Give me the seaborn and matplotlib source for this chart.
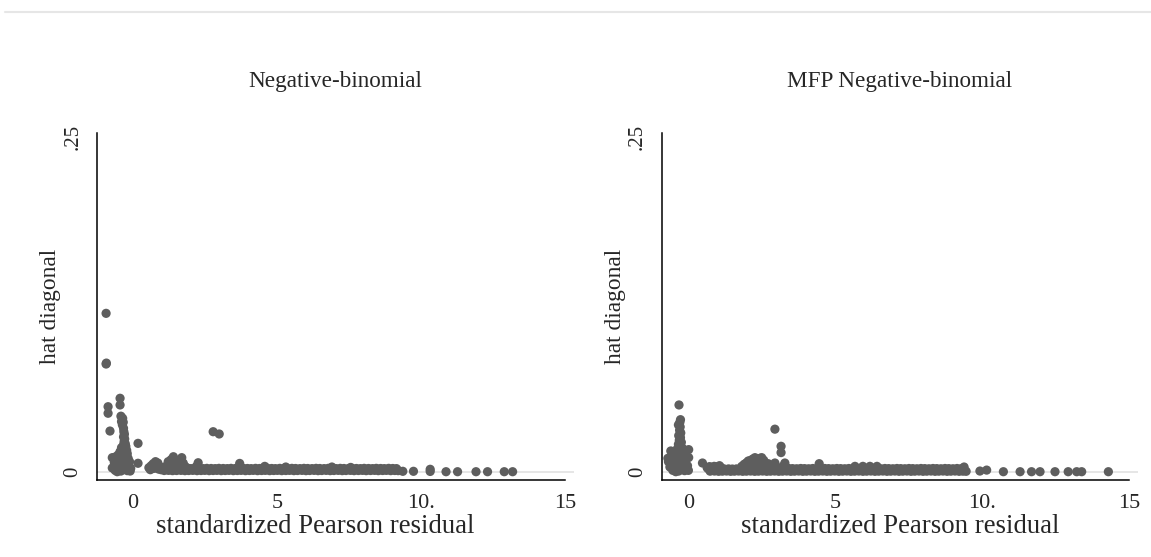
import numpy as np
import pandas as pd
import matplotlib
matplotlib.use("Agg")
import matplotlib.pyplot as plt
from matplotlib.lines import Line2D
import seaborn as sns

# ---------------- data ----------------
titles = ["Negative-binomial", "MFP Negative-binomial"]
x_label = "standardized Pearson residual"
y_label = "hat diagonal"
x_ticks = [0, 5, 10, 15]
x_tick_labels = ["0", "5", "10.", "15"]
y_ticks = [0, 0.25]
y_tick_labels = ["0", ".25"]

# Negative-binomial panel
nb_out_x = [-0.935, -0.935, -0.925, -0.866, -0.866, -0.45, -0.45, -0.80, 0.173, 0.173, 2.78, 2.99]
nb_out_y = [0.1184, 0.0805, 0.0812, 0.0486, 0.0437, 0.0549, 0.0499, 0.0304, 0.0212, 0.0063, 0.0299, 0.0282]

nb_col_x = [-0.42, -0.36, -0.40, -0.34, -0.37, -0.33, -0.32, -0.30, -0.33, -0.29, -0.31, -0.27,
            -0.33, -0.25, -0.40, -0.29, -0.22, -0.45, -0.35, -0.20, -0.52, -0.28, -0.62, -0.40,
            -0.17, -0.72, -0.55, -0.30, -0.12, -0.65, -0.45, -0.22, -0.72, -0.58, -0.38, -0.15,
            -0.08, -0.50, -0.30, -0.62, -0.42, -0.20, -0.10, -0.55]
nb_col_y = [0.0415, 0.0399, 0.0375, 0.0370, 0.0350, 0.0325, 0.0300, 0.0280, 0.0260, 0.0245, 0.0225, 0.0210,
            0.0200, 0.0190, 0.0180, 0.0170, 0.0160, 0.0150, 0.0145, 0.0135, 0.0125, 0.0120, 0.0110, 0.0105,
            0.0100, 0.0105, 0.0090, 0.0085, 0.0075, 0.0070, 0.0065, 0.0060, 0.0028, 0.0045, 0.0040, 0.0040,
            0.0025, 0.0020, 0.0018, 0.0010, 0.0005, 0.0008, 0.0005, 0.0000]

nb_bump_x = [0.55, 0.60, 0.63, 0.70, 0.72, 0.78, 0.82, 0.86, 0.88, 0.92, 0.97,
             1.10, 1.17, 1.22, 1.28, 1.32, 1.40, 1.45, 1.52, 1.58, 1.64, 1.69, 1.74, 1.80,
             1.37, 1.60, 1.88, 2.20, 2.26, 3.70, 4.57, 5.30, 6.90, 7.55]
nb_bump_y = [0.0030, 0.0015, 0.0045, 0.0060, 0.0025, 0.0075, 0.0050, 0.0065, 0.0020, 0.0040, 0.0015,
             0.0025, 0.0045, 0.0075, 0.0060, 0.0090, 0.0112, 0.0080, 0.0055, 0.0070, 0.0090, 0.0105, 0.0065, 0.0040,
             0.0035, 0.0030, 0.0028, 0.0040, 0.0067, 0.0062, 0.0040, 0.0035, 0.0035, 0.0032]

nb_band_x = [1.02, 1.16, 1.31, 1.44, 1.59, 1.73, 1.86, 2.01, 2.14, 2.29, 2.43, 2.56, 2.71, 2.85, 2.98,
             3.13, 3.27, 3.40, 3.55, 3.68, 3.83, 3.97, 4.10, 4.25, 4.39, 4.52, 4.67, 4.81, 4.94, 5.09,
             5.23, 5.36, 5.51, 5.64, 5.79, 5.93, 6.06, 6.21, 6.35, 6.48, 6.63, 6.77, 6.90, 7.05, 7.19,
             7.32, 7.47, 7.60, 7.75, 7.89, 8.02, 8.17, 8.31, 8.44, 8.59, 8.72, 8.87, 9.01, 9.14,
             1.08, 1.23, 1.37, 1.51, 1.66, 1.80, 1.93, 2.07, 2.22, 2.36, 2.49, 2.64, 2.78, 2.91, 3.06,
             3.20, 3.33, 3.48, 3.62, 3.75, 3.90, 4.04, 4.17, 4.32, 4.46, 4.59, 4.74, 4.88, 5.01, 5.16,
             5.30, 5.43, 5.58, 5.71, 5.86, 6.00, 6.13, 6.28, 6.42, 6.55, 6.70, 6.84, 6.97, 7.12, 7.26,
             7.39, 7.54, 7.67, 7.82, 7.96, 8.09, 8.24, 8.38, 8.51, 8.66, 8.79, 8.94, 9.08, 9.20]
nb_band_y = [0.0024, 0.0023, 0.0025, 0.0024, 0.0023, 0.0025, 0.0024, 0.0023, 0.0025, 0.0024, 0.0023, 0.0025, 0.0024, 0.0023, 0.0025,
             0.0024, 0.0023, 0.0025, 0.0024, 0.0023, 0.0025, 0.0024, 0.0023, 0.0025, 0.0024, 0.0023, 0.0025, 0.0024, 0.0023, 0.0025,
             0.0024, 0.0023, 0.0025, 0.0024, 0.0023, 0.0025, 0.0024, 0.0023, 0.0025, 0.0024, 0.0023, 0.0025, 0.0024, 0.0023, 0.0025,
             0.0024, 0.0023, 0.0025, 0.0024, 0.0023, 0.0025, 0.0024, 0.0023, 0.0025, 0.0024, 0.0023, 0.0025, 0.0024, 0.0023,
             0.0009, 0.0010, 0.0008, 0.0009, 0.0010, 0.0008, 0.0009, 0.0010, 0.0008, 0.0009, 0.0010, 0.0008, 0.0009, 0.0010, 0.0008,
             0.0009, 0.0010, 0.0008, 0.0009, 0.0010, 0.0008, 0.0009, 0.0010, 0.0008, 0.0009, 0.0010, 0.0008, 0.0009, 0.0010, 0.0008,
             0.0009, 0.0010, 0.0008, 0.0009, 0.0010, 0.0008, 0.0009, 0.0010, 0.0008, 0.0009, 0.0010, 0.0008, 0.0009, 0.0010, 0.0008,
             0.0009, 0.0010, 0.0008, 0.0009, 0.0010, 0.0008, 0.0009, 0.0010, 0.0008, 0.0009, 0.0010, 0.0008, 0.0009, 0.0008]

nb_tail_x = [9.36, 9.73, 10.31, 10.31, 10.86, 11.26, 11.90, 12.30, 12.88, 13.17]
nb_tail_y = [0.0003, 0.0003, 0.0002, 0.0018, 0.0000, 0.0000, 0.0000, 0.0000, 0.0000, 0.0000]

# MFP Negative-binomial panel
mfp_out_x = [-0.34, -0.29, -0.62, -0.01, -0.01, 0.46, 2.93, 3.14, 3.14]
mfp_out_y = [0.0499, 0.0389, 0.0155, 0.0165, 0.0106, 0.0065, 0.0318, 0.0190, 0.0143]

mfp_col_x = [-0.31, -0.36, -0.30, -0.32, -0.28, -0.35, -0.29, -0.33, -0.26, -0.36, -0.28, -0.22,
             -0.40, -0.32, -0.18, -0.45, -0.27, -0.52, -0.38, -0.20, -0.10, -0.72, -0.62, -0.48,
             -0.30, -0.70, -0.55, -0.38, -0.18, -0.05, -0.65, -0.45, -0.25, -0.10, -0.55, -0.35,
             -0.15, -0.02, -0.45]
mfp_col_y = [0.0370, 0.0350, 0.0335, 0.0310, 0.0290, 0.0270, 0.0255, 0.0235, 0.0220, 0.0205, 0.0190, 0.0175,
             0.0170, 0.0160, 0.0150, 0.0140, 0.0135, 0.0120, 0.0115, 0.0105, 0.0090, 0.0100, 0.0100, 0.0090,
             0.0080, 0.0075, 0.0060, 0.0055, 0.0060, 0.0045, 0.0035, 0.0030, 0.0030, 0.0020, 0.0010, 0.0005,
             0.0008, 0.0010, 0.0000]

mfp_bump_x = [0.62, 0.70, 0.78, 0.86, 0.95, 1.04, 1.10,
              1.80, 1.88, 1.95, 2.02, 2.10, 2.18, 2.25, 2.35, 2.42, 2.48, 2.55, 2.60,
              2.00, 2.30, 2.50, 2.70, 2.93, 3.27, 3.20, 4.44, 5.66, 5.93, 6.17, 6.41, 9.38]
mfp_bump_y = [0.0030, 0.0038, 0.0032, 0.0040, 0.0036, 0.0045, 0.0030,
              0.0040, 0.0055, 0.0065, 0.0080, 0.0085, 0.0095, 0.0105, 0.0090, 0.0100, 0.0105, 0.0085, 0.0060,
              0.0040, 0.0050, 0.0045, 0.0060, 0.0065, 0.0065, 0.0040, 0.0060, 0.0040, 0.0040, 0.0040, 0.0040, 0.0035]

mfp_band_x = [0.66, 0.80, 0.94, 1.07, 1.21, 1.35, 1.48, 1.62, 1.76, 1.89, 2.03, 2.17, 2.30, 2.44, 2.58,
              2.71, 2.85, 2.99, 3.12, 3.26, 3.40, 3.53, 3.67, 3.81, 3.94, 4.08, 4.22, 4.35, 4.49, 4.63,
              4.76, 4.90, 5.04, 5.17, 5.31, 5.45, 5.58, 5.72, 5.86, 5.99, 6.13, 6.27, 6.40, 6.54, 6.68,
              6.81, 6.95, 7.09, 7.22, 7.36, 7.50, 7.63, 7.77, 7.91, 8.04, 8.18, 8.32, 8.45, 8.59, 8.73,
              8.86, 9.00, 9.14, 9.27,
              0.72, 0.87, 1.01, 1.14, 1.28, 1.42, 1.55, 1.69, 1.83, 1.96, 2.10, 2.24, 2.37, 2.51, 2.65,
              2.78, 2.92, 3.06, 3.19, 3.33, 3.47, 3.60, 3.74, 3.88, 4.01, 4.15, 4.29, 4.42, 4.56, 4.70,
              4.83, 4.97, 5.11, 5.24, 5.38, 5.52, 5.65, 5.79, 5.93, 6.06, 6.20, 6.34, 6.47, 6.61, 6.75,
              6.88, 7.02, 7.16, 7.29, 7.43, 7.57, 7.70, 7.84, 7.98, 8.11, 8.25, 8.39, 8.52, 8.66, 8.80,
              8.93, 9.07, 9.21, 9.34, 9.45]
mfp_band_y = [0.0022, 0.0023, 0.0021, 0.0022, 0.0020, 0.0021, 0.0020, 0.0021, 0.0022, 0.0023, 0.0022, 0.0024, 0.0023, 0.0022, 0.0024,
              0.0023, 0.0022, 0.0024, 0.0023, 0.0022, 0.0024, 0.0023, 0.0022, 0.0024, 0.0023, 0.0022, 0.0024, 0.0023, 0.0022, 0.0024,
              0.0023, 0.0022, 0.0024, 0.0023, 0.0022, 0.0024, 0.0023, 0.0022, 0.0024, 0.0023, 0.0022, 0.0024, 0.0023, 0.0022, 0.0024,
              0.0023, 0.0022, 0.0024, 0.0023, 0.0022, 0.0024, 0.0023, 0.0022, 0.0024, 0.0023, 0.0022, 0.0024, 0.0023, 0.0022, 0.0024,
              0.0023, 0.0022, 0.0024, 0.0022,
              0.0004, 0.0005, 0.0003, 0.0004, 0.0005, 0.0003, 0.0004, 0.0005, 0.0003, 0.0004, 0.0005, 0.0003, 0.0004, 0.0005, 0.0003,
              0.0004, 0.0005, 0.0003, 0.0004, 0.0005, 0.0003, 0.0004, 0.0005, 0.0003, 0.0004, 0.0005, 0.0003, 0.0004, 0.0005, 0.0003,
              0.0004, 0.0005, 0.0003, 0.0004, 0.0005, 0.0003, 0.0004, 0.0005, 0.0003, 0.0004, 0.0005, 0.0003, 0.0004, 0.0005, 0.0003,
              0.0004, 0.0005, 0.0003, 0.0004, 0.0005, 0.0003, 0.0004, 0.0005, 0.0003, 0.0004, 0.0005, 0.0003, 0.0004, 0.0005, 0.0003,
              0.0004, 0.0005, 0.0003, 0.0004, 0.0003]

mfp_tail_x = [9.92, 10.15, 10.72, 11.29, 11.68, 11.97, 12.48, 12.93, 13.22, 13.39, 14.30]
mfp_tail_y = [0.0005, 0.0012, 0.0000, 0.0000, 0.0000, 0.0000, 0.0000, 0.0000, 0.0000, 0.0000, 0.0000]

# ---------------- assemble ----------------
def frame(model, *pairs):
    xs, ys = [], []
    for px, py in pairs:
        xs += px
        ys += py
    return pd.DataFrame({"model": model, "resid": xs, "hat": ys})

df = pd.concat([
    frame(titles[0], (nb_out_x, nb_out_y), (nb_col_x, nb_col_y), (nb_bump_x, nb_bump_y),
          (nb_band_x, nb_band_y), (nb_tail_x, nb_tail_y)),
    frame(titles[1], (mfp_out_x, mfp_out_y), (mfp_col_x, mfp_col_y), (mfp_bump_x, mfp_bump_y),
          (mfp_band_x, mfp_band_y), (mfp_tail_x, mfp_tail_y)),
], ignore_index=True)

# ---------------- style ----------------
sns.set_style("white")
plt.rcParams["font.family"] = ["Liberation Serif", "DejaVu Serif"]

W, H = 1151, 557
fig = plt.figure(figsize=(W / 100, H / 100), dpi=100)

# panel geometry in pixels: (left, right, top, bottom, xmin, xlabel position)
panels = [
    (97.3, 574.0, 133.3, 480.0, -1.24, 0.4567),
    (661.7, 1137.7, 133.3, 480.0, -0.93, 0.5),
]
ymin, ymax = -0.0062, 0.253
marker_color = "#5e5e5e"

for i, (l, r, t, b, xmin, xlab_pos) in enumerate(panels):
    ax = fig.add_axes([l / W, 1 - b / H, (r - l) / W, (b - t) / H])
    sub = df[df["model"] == titles[i]]
    ax.axhline(0, color="#e2e2e2", lw=1.2, zorder=0)
    sns.scatterplot(data=sub, x="resid", y="hat", ax=ax, s=44, color=marker_color,
                    edgecolor="none", linewidth=0, legend=False, zorder=3)
    ax.set_xlim(xmin, 15.3)
    ax.set_ylim(ymin, ymax)
    for side in ["top", "right"]:
        ax.spines[side].set_visible(False)
    for side in ["left", "bottom"]:
        ax.spines[side].set_color("black")
        ax.spines[side].set_linewidth(1.1)
    ax.spines["bottom"].set_bounds(xmin, 15)
    ax.set_xticks(x_ticks)
    ax.set_xticklabels(x_tick_labels, fontsize=16)
    ax.set_yticks(y_ticks)
    ax.set_yticklabels(y_tick_labels, fontsize=15, rotation=90, va="center")
    ax.tick_params(axis="both", direction="out", length=3.6, width=1.0, color="black")
    ax.tick_params(axis="x", pad=6.5)
    ax.tick_params(axis="y", pad=7)
    ax.set_xlabel(x_label, fontsize=19.3)
    ax.set_ylabel(y_label, fontsize=16.8)
    ax.xaxis.set_label_coords(xlab_pos, -0.097)
    ax.yaxis.set_label_coords(-0.076, 0.5)
    ax.text(0.5, (b - 82) / (b - t), titles[i], transform=ax.transAxes,
            ha="center", va="center", fontsize=16.7)

fig.add_artist(Line2D([5 / W, 1.0], [1 - 12 / H, 1 - 12 / H], color="#e6e6e6", lw=1.5))

fig.savefig("out.png", dpi=100, facecolor="white")
